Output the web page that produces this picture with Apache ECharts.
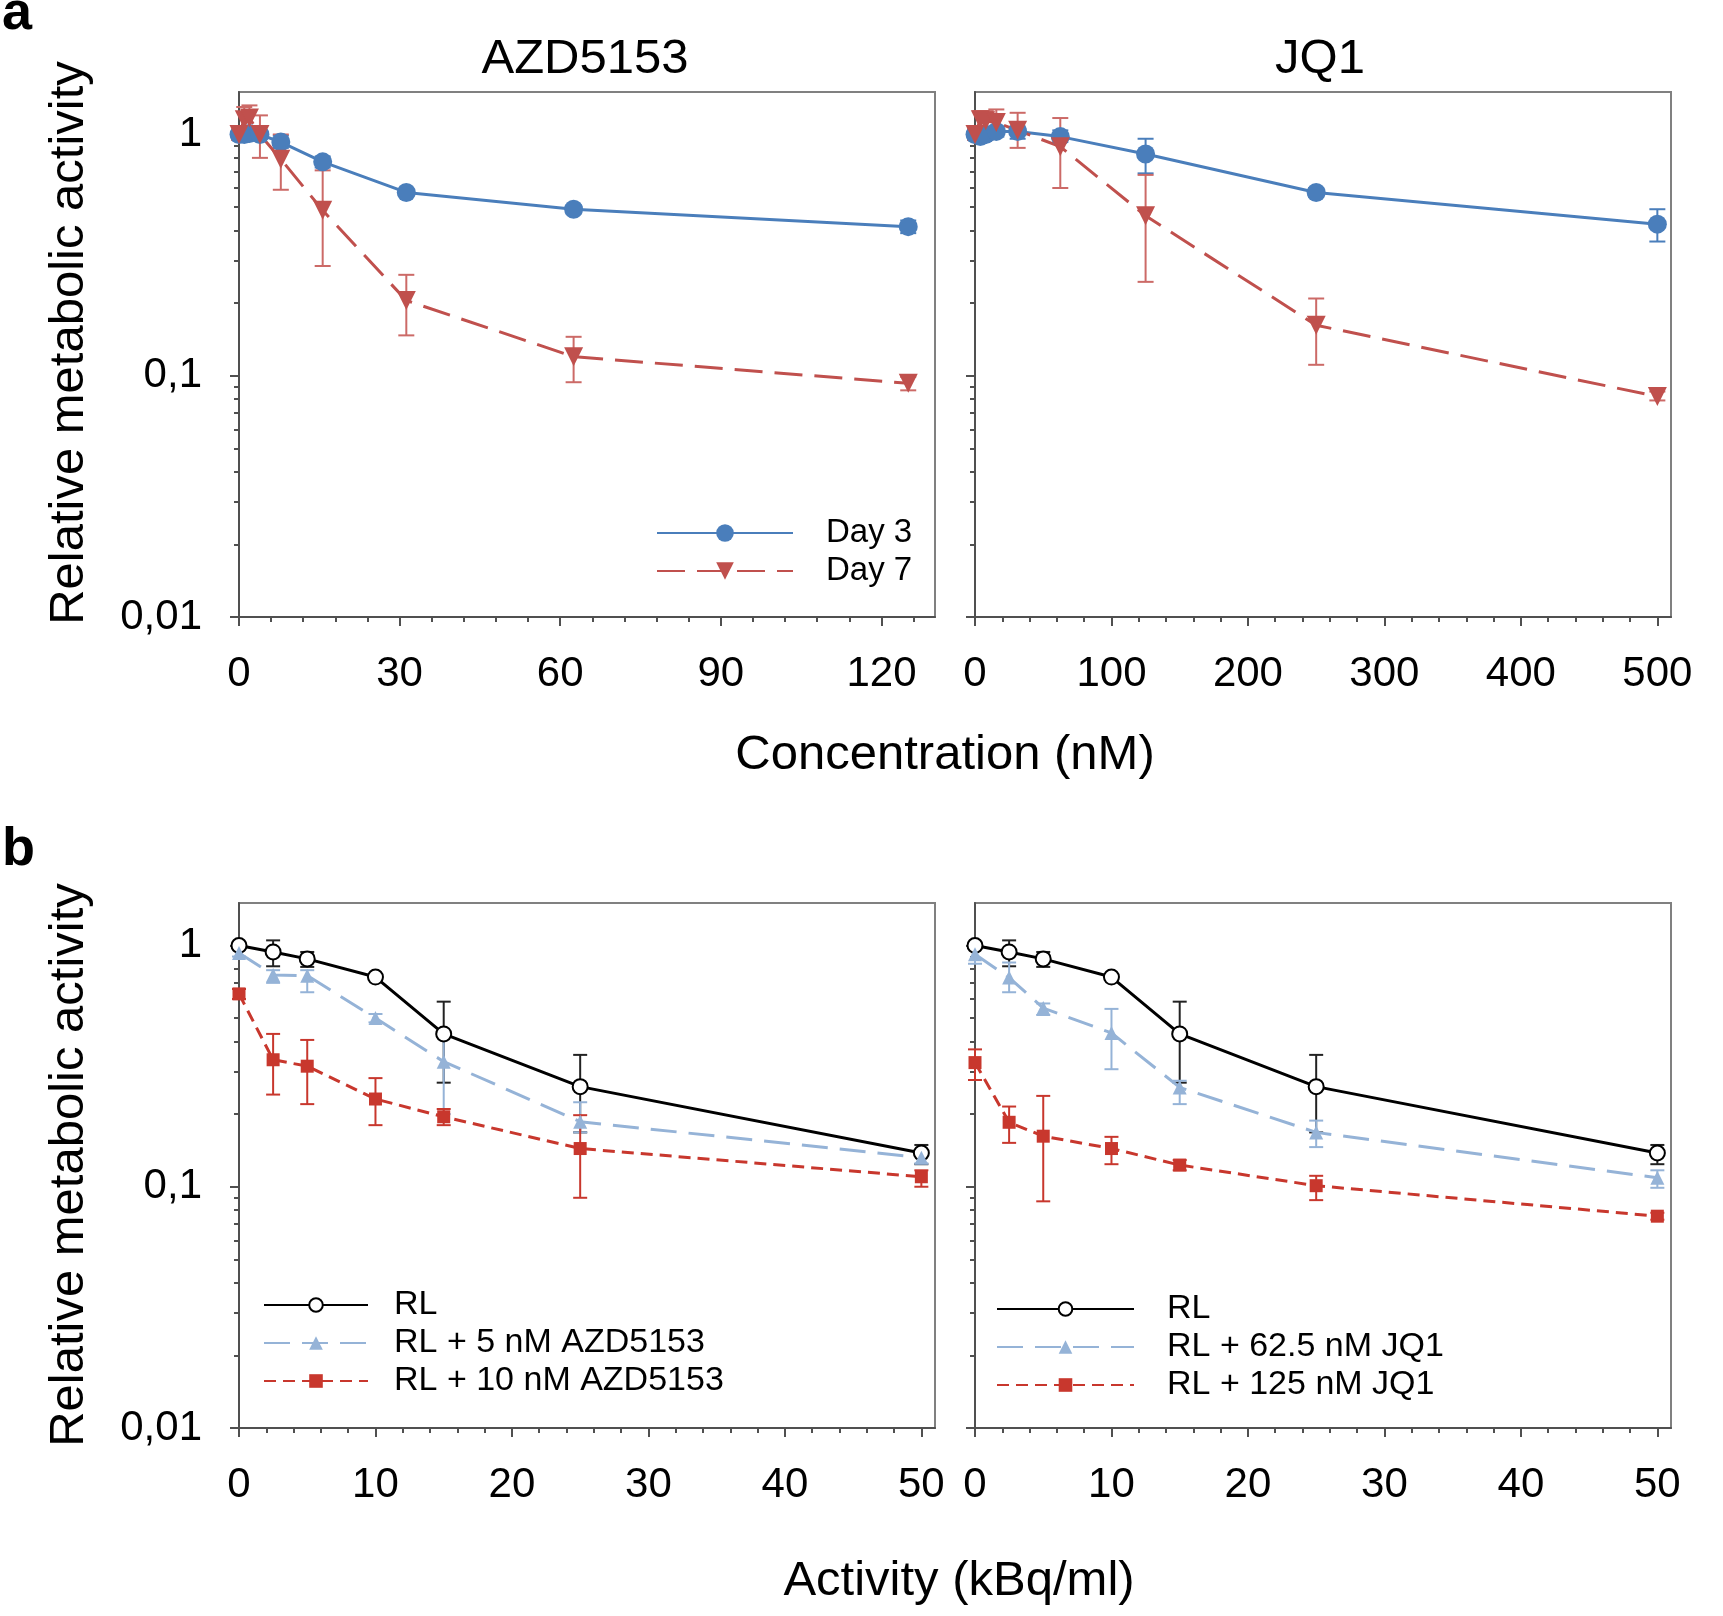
<!DOCTYPE html>
<html>
<head>
<meta charset="utf-8">
<script src="https://cdn.jsdelivr.net/npm/echarts@6.0.0/dist/echarts.min.js"></script>
<style>
  html, body { margin: 0; padding: 0; background: #fff; }
  #chart { width: 1723px; height: 1616px; }
</style>
</head>
<body>
<div id="chart"></div>
<script>
var FONT = '"Liberation Sans", Arial, sans-serif';

// --- panel a: AZD5153 (nM) ---
var azdConc = [0, 0.98, 1.95, 3.91, 7.81, 15.63, 31.25, 62.5, 125];
var azdDay3 = [1.0, 1.0, 1.01, 1.0, 0.93, 0.77, 0.575, 0.49, 0.415];
var azdDay3Lo = [0.96, 0.95, 0.96, 0.96, 0.88, 0.73, 0.56, 0.47, 0.39];
var azdDay3Hi = [1.04, 1.05, 1.06, 1.04, 0.99, 0.81, 0.59, 0.51, 0.44];
var azdDay7 = [1.0, 1.15, 1.17, 1.0, 0.79, 0.485, 0.205, 0.12, 0.093];
var azdDay7Lo = [0.95, 1.0, 1.02, 0.8, 0.59, 0.285, 0.147, 0.094, 0.087];
var azdDay7Hi = [1.05, 1.3, 1.32, 1.2, 1.0, 0.71, 0.262, 0.145, 0.099];

// --- panel a: JQ1 (nM) ---
var jqConc = [0, 3.91, 7.81, 15.63, 31.25, 62.5, 125, 250, 500];
var jqDay3 = [1.0, 0.98, 1.0, 1.03, 1.03, 0.98, 0.83, 0.575, 0.425];
var jqDay3Lo = [0.95, 0.93, 0.95, 0.98, 0.96, 0.93, 0.69, 0.55, 0.36];
var jqDay3Hi = [1.05, 1.03, 1.05, 1.08, 1.08, 1.04, 0.96, 0.6, 0.49];
var jqDay7 = [1.0, 1.15, 1.14, 1.12, 1.04, 0.89, 0.46, 0.162, 0.082];
var jqDay7Lo = [0.95, 1.0, 1.0, 1.0, 0.88, 0.6, 0.245, 0.111, 0.079];
var jqDay7Hi = [1.05, 1.25, 1.25, 1.27, 1.23, 1.17, 0.68, 0.209, 0.086];

// --- panel b: activity (kBq/ml) ---
var activity = [0, 2.5, 5, 10, 15, 25, 50];
var rl = [1.0, 0.94, 0.88, 0.74, 0.43, 0.26, 0.138];
var rlLo = [0.98, 0.82, 0.815, 0.72, 0.27, 0.168, 0.124];
var rlHi = [1.02, 1.05, 0.94, 0.76, 0.585, 0.352, 0.149];
var rlAzd5 = [0.93, 0.755, 0.75, 0.5, 0.33, 0.186, 0.132];
var rlAzd5Lo = [0.9, 0.7, 0.64, 0.48, 0.2, 0.168, 0.125];
var rlAzd5Hi = [0.96, 0.79, 0.79, 0.52, 0.42, 0.224, 0.14];
var rlAzd10 = [0.63, 0.336, 0.316, 0.231, 0.195, 0.144, 0.11];
var rlAzd10Lo = [0.6, 0.241, 0.22, 0.18, 0.18, 0.09, 0.1];
var rlAzd10Hi = [0.66, 0.43, 0.406, 0.282, 0.21, 0.198, 0.117];
var rlJq62 = [0.92, 0.736, 0.55, 0.434, 0.258, 0.168, 0.109];
var rlJq62Lo = [0.84, 0.64, 0.515, 0.307, 0.22, 0.146, 0.099];
var rlJq62Hi = [0.97, 0.85, 0.575, 0.546, 0.275, 0.188, 0.117];
var rlJq125 = [0.327, 0.185, 0.162, 0.144, 0.123, 0.101, 0.0755];
var rlJq125Lo = [0.277, 0.152, 0.087, 0.124, 0.117, 0.088, 0.073];
var rlJq125Hi = [0.371, 0.215, 0.238, 0.161, 0.129, 0.111, 0.078];

// --- axes ---
var Y_TICKS = [0.01, 0.1, 1];
var Y_LABELS = ['0,01', '0,1', '1'];
var Y_MIN = 0.01, Y_MAX = 1.5;
var X_MAX = [130, 510, 51, 51];
var X_TICKS = [
  [0, 30, 60, 90, 120],
  [0, 100, 200, 300, 400, 500],
  [0, 10, 20, 30, 40, 50],
  [0, 10, 20, 30, 40, 50]
];
var X_MINOR_STEP = [6, 20, 2, 2];

var GRIDS = [
  { left: 239, top: 92, width: 696, height: 525 },
  { left: 975, top: 92, width: 696, height: 525 },
  { left: 239, top: 903, width: 696, height: 525 },
  { left: 975, top: 903, width: 696, height: 525 }
];

var AXIS = '#505050';

function minorX(g) {
  var out = [];
  var step = X_MINOR_STEP[g];
  for (var i = 1; i * step <= X_MAX[g]; i++) {
    var v = i * step;
    if (X_TICKS[g].indexOf(v) < 0) out.push(v);
  }
  return out;
}

function minorY() {
  var out = [];
  [0.01, 0.1].forEach(function(d) {
    for (var k = 2; k <= 9; k++) out.push(+(d * k).toFixed(3));
  });
  return out;
}

function yLabel(v) {
  for (var i = 0; i < Y_TICKS.length; i++) {
    if (Math.abs(Math.log10(v) - Math.log10(Y_TICKS[i])) < 0.01) return Y_LABELS[i];
  }
  return '';
}

var xAxes = [], yAxes = [];
for (var g = 0; g < 4; g++) {
  xAxes.push({
    type: 'value', gridIndex: g, min: 0, max: X_MAX[g], position: 'bottom',
    splitLine: { show: false },
    axisLine: { show: true, onZero: false, lineStyle: { color: AXIS, width: 2 } },
    axisTick: { show: true, customValues: X_TICKS[g], length: 9, lineStyle: { color: AXIS, width: 2 } },
    axisLabel: { show: true, customValues: X_TICKS[g], margin: 36, fontSize: 42, color: '#000', fontFamily: FONT }
  });
  xAxes.push({
    type: 'value', gridIndex: g, min: 0, max: X_MAX[g], position: 'bottom',
    splitLine: { show: false },
    axisLine: { show: false, onZero: false },
    axisTick: { show: true, customValues: minorX(g), length: 5, lineStyle: { color: AXIS, width: 2 } },
    axisLabel: { show: false }
  });
  yAxes.push({
    type: 'log', logBase: 10, gridIndex: g, min: Y_MIN, max: Y_MAX, position: 'left',
    splitLine: { show: false },
    axisLine: { show: true, onZero: false, lineStyle: { color: AXIS, width: 2 } },
    axisTick: { show: true, customValues: Y_TICKS, length: 9, lineStyle: { color: AXIS, width: 2 } },
    axisLabel: { show: g % 2 === 0, customValues: Y_TICKS, formatter: yLabel, margin: 37, fontSize: 42, color: '#000', fontFamily: FONT }
  });
  yAxes.push({
    type: 'log', logBase: 10, gridIndex: g, min: Y_MIN, max: Y_MAX, position: 'left',
    splitLine: { show: false },
    axisLine: { show: false, onZero: false },
    axisTick: { show: true, customValues: minorY(), length: 5, lineStyle: { color: AXIS, width: 2 } },
    axisLabel: { show: false }
  });
}

function pairs(xs, ys) {
  return xs.map(function(x, i) { return [x, ys[i]]; });
}

function line(name, g, xs, ys, st) {
  return {
    type: 'line', name: name, xAxisIndex: 2 * g, yAxisIndex: 2 * g,
    data: pairs(xs, ys),
    symbol: st.symbol, symbolSize: st.size, symbolRotate: st.rotate || 0,
    showSymbol: true, showAllSymbol: true,
    lineStyle: { color: st.color, width: 3, type: st.dash || 'solid' },
    itemStyle: { color: st.color, borderWidth: st.border || 0, borderColor: st.color },
    z: 3
  };
}

function errorBars(g, xs, lo, hi, color, cap) {
  return {
    type: 'custom', xAxisIndex: 2 * g, yAxisIndex: 2 * g,
    data: xs.map(function(x, i) { return [x, lo[i], hi[i]]; }),
    encode: { x: 0, y: [1, 2] },
    itemStyle: { color: color },
    z: 2,
    renderItem: function(params, api) {
      var x = api.value(0);
      var a = api.coord([x, api.value(1)]);
      var b = api.coord([x, api.value(2)]);
      var style = { stroke: color, lineWidth: 2, fill: null };
      return {
        type: 'group',
        children: [
          { type: 'line', shape: { x1: a[0], y1: a[1], x2: b[0], y2: b[1] }, style: style },
          { type: 'line', shape: { x1: a[0] - cap, y1: a[1], x2: a[0] + cap, y2: a[1] }, style: style },
          { type: 'line', shape: { x1: b[0] - cap, y1: b[1], x2: b[0] + cap, y2: b[1] }, style: style }
        ]
      };
    }
  };
}

var BLUE = '#4a7ebb', RED7 = '#c0504d', RED7ERR = '#cc6a67';
var BLACK = '#000', LBLUE = '#95b3d7', RED = '#c8372d';
var sDay3 = { symbol: 'circle', size: 19, color: BLUE };
var sDay7 = { symbol: 'triangle', size: 19, rotate: 180, color: RED7, dash: [28, 12] };
var sRL = { symbol: 'emptyCircle', size: 15, color: BLACK, border: 2 };
var sLow = { symbol: 'triangle', size: 14, color: LBLUE, dash: [26, 12] };
var sHigh = { symbol: 'rect', size: 13, color: RED, dash: [12, 7] };

var series = [
  errorBars(0, azdConc, azdDay3Lo, azdDay3Hi, BLUE, 8),
  errorBars(0, azdConc, azdDay7Lo, azdDay7Hi, RED7ERR, 8),
  line('Day 3', 0, azdConc, azdDay3, sDay3),
  line('Day 7', 0, azdConc, azdDay7, sDay7),
  errorBars(1, jqConc, jqDay3Lo, jqDay3Hi, BLUE, 8),
  errorBars(1, jqConc, jqDay7Lo, jqDay7Hi, RED7ERR, 8),
  line('Day 3', 1, jqConc, jqDay3, sDay3),
  line('Day 7', 1, jqConc, jqDay7, sDay7),

  errorBars(2, activity, rlLo, rlHi, '#222', 7),
  errorBars(2, activity, rlAzd5Lo, rlAzd5Hi, LBLUE, 7),
  errorBars(2, activity, rlAzd10Lo, rlAzd10Hi, RED, 7),
  line('RL', 2, activity, rl, sRL),
  line('RL + 5 nM AZD5153', 2, activity, rlAzd5, sLow),
  line('RL + 10 nM AZD5153', 2, activity, rlAzd10, sHigh),

  errorBars(3, activity, rlLo, rlHi, '#222', 7),
  errorBars(3, activity, rlJq62Lo, rlJq62Hi, LBLUE, 7),
  errorBars(3, activity, rlJq125Lo, rlJq125Hi, RED, 7),
  line('RL', 3, activity, rl, sRL),
  line('RL + 62.5 nM JQ1', 3, activity, rlJq62, sLow),
  line('RL + 125 nM JQ1', 3, activity, rlJq125, sHigh)
];

function legendAt(names, left, top, width, iconH, pad, size) {
  return {
    data: names, orient: 'vertical', left: left, top: top, padding: 0,
    itemWidth: width, itemHeight: iconH, itemGap: 0, selectedMode: false,
    textStyle: { fontSize: size, fontFamily: FONT, color: '#000', lineHeight: 38, padding: [0, 0, 0, pad] }
  };
}

function text(str, x, y, size, opts) {
  opts = opts || {};
  return {
    type: 'text', x: x, y: y, rotation: opts.rotation || 0, silent: true,
    style: {
      text: str, fill: '#000',
      font: (opts.bold ? 'bold ' : '') + size + 'px ' + FONT,
      textAlign: opts.align || 'center', textVerticalAlign: 'middle',
      align: opts.align || 'center', verticalAlign: 'middle'
    }
  };
}

var chart = echarts.init(document.getElementById('chart'), null, { renderer: 'canvas' });
chart.setOption({
  animation: false,
  backgroundColor: '#fff',
  grid: GRIDS.map(function(r) {
    return { left: r.left, top: r.top, width: r.width, height: r.height, show: true, borderColor: '#808080', borderWidth: 2, backgroundColor: 'transparent' };
  }),
  xAxis: xAxes,
  yAxis: yAxes,
  legend: [
    legendAt(['Day 3', 'Day 7'], 656, 514, 136, 22, 28, 33),
    legendAt(['RL', 'RL + 5 nM AZD5153', 'RL + 10 nM AZD5153'], 263, 1286, 104, 17, 21, 34),
    legendAt(['RL', 'RL + 62.5 nM JQ1', 'RL + 125 nM JQ1'], 996, 1290, 137, 17, 28, 34)
  ],
  graphic: [
    text('a', 2, 14, 54, { bold: true, align: 'left' }),
    text('b', 2, 850, 54, { bold: true, align: 'left' }),
    text('AZD5153', 585, 59, 49),
    text('JQ1', 1320, 59, 49),
    text('Concentration (nM)', 945, 755, 49),
    text('Activity (kBq/ml)', 959, 1581, 49),
    text('Relative metabolic activity', 69, 343, 49, { rotation: Math.PI / 2 }),
    text('Relative metabolic activity', 69, 1165, 49, { rotation: Math.PI / 2 })
  ],
  series: series
});
window.addEventListener('resize', function() { chart.resize(); });
</script>
</body>
</html>
